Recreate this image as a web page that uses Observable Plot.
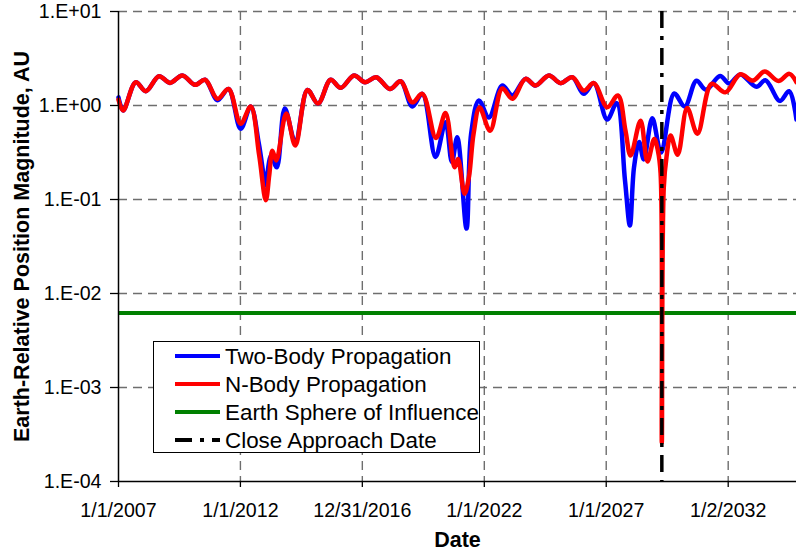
<!DOCTYPE html>
<html>
<head>
<meta charset="utf-8">
<script src="https://cdn.jsdelivr.net/npm/d3@7"></script>
<script src="https://cdn.jsdelivr.net/npm/@observablehq/plot@0.6"></script>
<style>
  html, body { margin: 0; padding: 0; background: #fff; }
  #wrap { position: relative; width: 796px; height: 552px; font-family: "Liberation Sans", Arial, sans-serif; }
  #legend { position: absolute; left: 153px; top: 341px; width: 325px; height: 110px; border: 1px solid #000; background: #fff; }
</style>
</head>
<body>
<div id="wrap"></div>
<script>
// Two-body propagation: decimal year, distance (AU)
const twoBodyYears = [2007.00,2007.19,2007.71,2008.12,2008.66,2009.11,2009.62,2010.14,2010.55,2011.06,2011.51,2012.01,2012.42,2012.75,2012.95,2013.02,2013.26,2013.49,2013.82,2014.25,2014.75,2015.18,2015.70,2016.11,2016.66,2017.11,2017.57,2018.13,2018.57,2019.05,2019.46,2020.00,2020.41,2020.67,2020.89,2021.27,2021.46,2021.78,2022.19,2022.74,2023.15,2023.69,2024.10,2024.65,2025.13,2025.61,2026.08,2026.49,2027.04,2027.43,2027.77,2027.97,2028.14,2028.35,2028.54,2028.89,2029.25,2029.79,2030.22,2030.70,2031.09,2031.67,2032.05,2032.50,2033.16,2033.53,2034.12,2034.50,2034.80];
const twoBodyAU    = [1.22,0.885,1.77,1.42,2.05,1.74,2.09,1.66,1.88,1.14,1.50,0.565,0.975,0.40,0.18,0.141,0.294,0.22,0.93,0.41,1.46,1.05,1.88,1.54,2.09,1.77,2.00,1.50,1.81,0.975,1.33,0.284,0.665,0.25,0.46,0.049,0.50,1.13,0.745,1.63,1.28,1.92,1.63,2.09,1.73,2.00,1.33,1.73,0.71,1.06,0.159,0.053,0.22,0.41,0.267,0.73,0.316,1.34,0.975,1.83,1.47,2.06,1.71,2.14,1.58,1.86,1.12,1.42,0.71];

// N-body propagation: decimal year, distance (AU)
const nBodyYears = [2007.00,2007.19,2007.71,2008.12,2008.66,2009.11,2009.62,2010.14,2010.55,2011.06,2011.51,2012.01,2012.42,2012.77,2013.04,2013.18,2013.31,2013.47,2013.88,2014.25,2014.75,2015.18,2015.70,2016.11,2016.66,2017.11,2017.57,2018.13,2018.57,2019.05,2019.46,2020.02,2020.41,2020.78,2020.92,2021.19,2021.37,2021.56,2021.81,2022.24,2022.74,2023.15,2023.69,2024.10,2024.65,2025.13,2025.61,2026.08,2026.49,2027.04,2027.48,2027.79,2028.00,2028.41,2028.69,2028.97,2029.12,2029.23,2029.28,2029.36,2029.47,2029.64,2029.93,2030.32,2030.74,2031.32,2031.88,2032.50,2033.02,2033.50,2034.06,2034.51,2034.80];
const nBodyAU    = [1.15,0.885,1.77,1.42,2.05,1.74,2.09,1.66,1.88,1.18,1.50,0.64,0.975,0.294,0.098,0.18,0.33,0.26,0.82,0.375,1.46,1.05,1.88,1.54,2.09,1.77,2.00,1.50,1.81,1.08,1.33,0.45,0.83,0.22,0.27,0.115,0.173,0.50,0.95,0.54,1.52,1.18,1.92,1.63,2.09,1.73,2.00,1.44,1.73,0.96,1.28,0.54,0.294,0.69,0.254,0.44,0.33,0.19,0.00026,0.134,0.28,0.48,0.30,0.94,0.50,1.70,1.38,2.15,1.84,2.30,1.82,2.17,1.77];

const soiAU = 0.0062;                 // Earth sphere of influence
const closeApproach = "2029-04-13";   // close approach date

const xTickDates  = ["2007-01-01","2012-01-01","2016-12-31","2022-01-01","2027-01-01","2032-01-02"];
const xTickLabels = ["1/1/2007","1/1/2012","12/31/2016","1/1/2022","1/1/2027","1/2/2032"];
const yTicks      = [1e-4, 1e-3, 1e-2, 1e-1, 1e0, 1e1];
const yTickLabels = ["1.E-04","1.E-03","1.E-02","1.E-01","1.E+00","1.E+01"];

const xDomain = ["2007-01-01", "2034-10-21"];

const legendItems = [
  {label: "Two-Body Propagation", color: "#0000ff", dash: null},
  {label: "N-Body Propagation", color: "#ff0000", dash: null},
  {label: "Earth Sphere of Influence", color: "#008000", dash: null},
  {label: "Close Approach Date", color: "#000000", dash: "17,8,4,8"}
];

const t0 = Date.UTC(2007, 0, 1);
const toDate = yr => new Date(t0 + (yr - 2007) * 365.25 * 86400000);
const parse = s => new Date(s + "T00:00:00Z");

const twoBody = twoBodyYears.map((y, i) => ({date: toDate(y), au: twoBodyAU[i]}));
const nBody = nBodyYears.map((y, i) => ({date: toDate(y), au: nBodyAU[i]}));
const xTicks = xTickDates.map(parse);
const xLabelOf = new Map(xTicks.map((d, i) => [+d, xTickLabels[i]]));
const yLabelOf = new Map(yTicks.map((v, i) => [v, yTickLabels[i]]));

const gridStyle = {stroke: "#6e6e6e", strokeWidth: 1.4, strokeDasharray: "9,6"};

const chart = Plot.plot({
  width: 796,
  height: 552,
  marginLeft: 118,
  marginRight: 0,
  marginTop: 11,
  marginBottom: 71,
  style: {fontFamily: "'Liberation Sans', Arial, sans-serif", fontSize: "19.6px", color: "#000", background: "#fff", overflow: "visible"},
  x: {type: "utc", domain: xDomain.map(parse)},
  y: {type: "log", domain: [1e-4, 10]},
  marks: [
    Plot.ruleY(yTicks.slice(1), gridStyle),
    Plot.ruleX(xTicks.slice(1), gridStyle),
    Plot.ruleY([soiAU], {stroke: "#008000", strokeWidth: 4}),
    Plot.line(twoBody, {x: "date", y: "au", stroke: "#0000ff", strokeWidth: 4.5, curve: "catmull-rom"}),
    Plot.line(nBody, {x: "date", y: "au", stroke: "#ff0000", strokeWidth: 4.5, curve: "catmull-rom"}),
    Plot.ruleX([parse(closeApproach)], {stroke: "#000", strokeWidth: 3.5, strokeDasharray: "17,8,4,8"}),
    Plot.ruleX([parse(xDomain[0])], {stroke: "#000", strokeWidth: 1.5}),
    Plot.ruleY([1e-4], {stroke: "#000", strokeWidth: 1.5}),
    Plot.axisY({ticks: yTicks, tickFormat: v => yLabelOf.get(v), tickSize: 8, tickPadding: 9, label: null, stroke: "#000", strokeWidth: 1.3}),
    Plot.axisX({ticks: xTicks, tickFormat: d => xLabelOf.get(+d), tickSize: 6, tickPadding: 16, label: null, stroke: "#000", strokeWidth: 1.3}),
    Plot.text(["Earth-Relative Position Magnitude, AU"], {frameAnchor: "left", dx: -96, rotate: -90, textAnchor: "middle", fontWeight: "bold", fontSize: 21.5, fill: "#000"}),
    Plot.text(["Date"], {frameAnchor: "bottom", dy: 65, fontWeight: "bold", fontSize: 21.5, fill: "#000"})
  ]
});

const wrap = document.getElementById("wrap");
wrap.appendChild(chart);

// Legend (inside plot area, as in the original)
const legend = document.createElement("div");
legend.id = "legend";
const ns = "http://www.w3.org/2000/svg";
const lsvg = document.createElementNS(ns, "svg");
lsvg.setAttribute("width", 325);
lsvg.setAttribute("height", 110);
lsvg.style.display = "block";
legendItems.forEach((item, i) => {
  const cy = 14 + i * 28;
  const ln = document.createElementNS(ns, "line");
  ln.setAttribute("x1", 21); ln.setAttribute("x2", 66);
  ln.setAttribute("y1", cy); ln.setAttribute("y2", cy);
  ln.setAttribute("stroke", item.color);
  ln.setAttribute("stroke-width", 4);
  if (item.dash) ln.setAttribute("stroke-dasharray", item.dash);
  lsvg.appendChild(ln);
  const tx = document.createElementNS(ns, "text");
  tx.setAttribute("x", 71); tx.setAttribute("y", cy);
  tx.setAttribute("dy", "0.35em");
  tx.setAttribute("font-size", "22.4px");
  tx.setAttribute("font-family", "'Liberation Sans', Arial, sans-serif");
  tx.setAttribute("fill", "#000");
  tx.textContent = item.label;
  lsvg.appendChild(tx);
});
legend.appendChild(lsvg);
wrap.appendChild(legend);
</script>
</body>
</html>
